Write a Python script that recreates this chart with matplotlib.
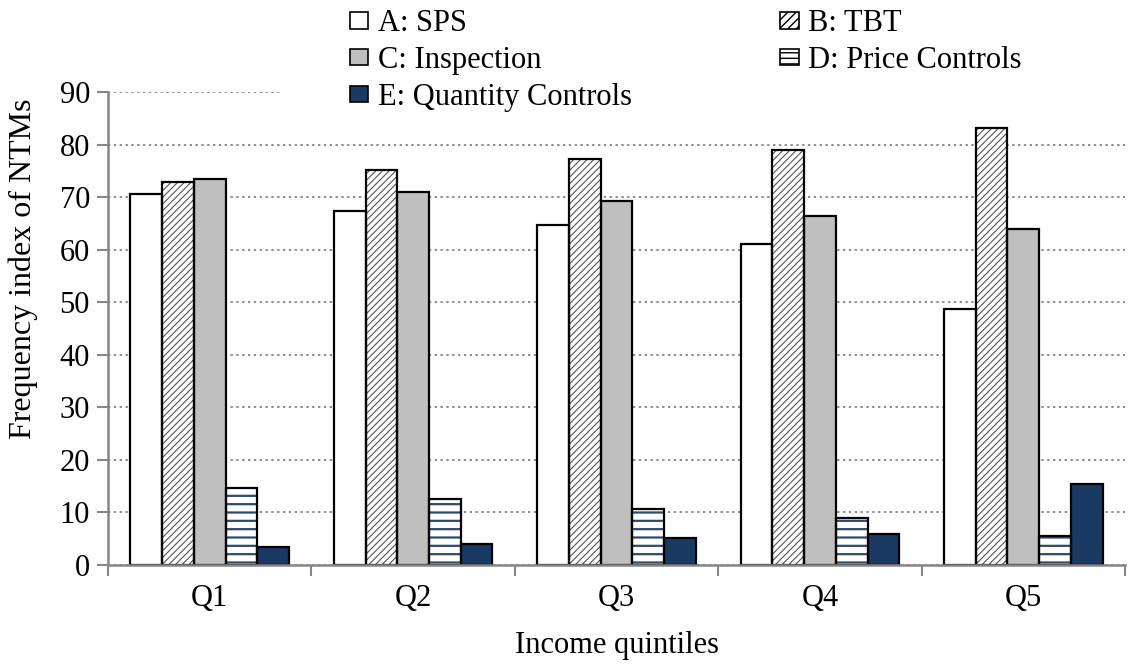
import matplotlib
matplotlib.use("Agg")
import matplotlib.pyplot as plt
import numpy as np
from matplotlib.patches import Patch, Rectangle

categories = ["Q1", "Q2", "Q3", "Q4", "Q5"]
series_names = ["A: SPS", "B: TBT", "C: Inspection", "D: Price Controls", "E: Quantity Controls"]
sps = [70.5, 67.4, 64.6, 61.0, 48.8]
tbt = [72.8, 75.1, 77.3, 79.0, 83.2]
inspection = [73.4, 70.9, 69.2, 66.4, 63.9]
price_controls = [14.7, 12.5, 10.6, 9.0, 5.5]
quantity_controls = [3.5, 4.0, 5.2, 5.9, 15.4]
yticks = [0, 10, 20, 30, 40, 50, 60, 70, 80, 90]

plt.rcParams['font.family'] = ['Liberation Serif', 'DejaVu Serif']
FS = 22

navy = "#1b3a63"
styles = [
    dict(facecolor="white", hatch=None, hatchcolor=None),
    dict(facecolor="white", hatch="/////", hatchcolor="#555555"),
    dict(facecolor="#bfbfbf", hatch=None, hatchcolor=None),
    dict(facecolor="white", hatch="--", hatchcolor="#2e4a6e"),
    dict(facecolor=navy, hatch=None, hatchcolor=None),
]

fig = plt.figure(figsize=(11.38, 6.69), dpi=100)
ax = fig.add_axes([0.0949, 0.1555, 0.8937, 0.707])

data = [sps, tbt, inspection, price_controls, quantity_controls]
x = np.arange(len(categories))
w = 0.156
for i, (vals, st) in enumerate(zip(data, styles)):
    pos = x + (i - 2) * w
    if st["hatch"]:
        plt.rcParams['hatch.linewidth'] = 0.8 if i == 1 else 1.6
        ax.bar(pos, vals, width=w, facecolor=st["facecolor"], edgecolor=st["hatchcolor"],
               hatch=st["hatch"], linewidth=0, zorder=3)
    else:
        ax.bar(pos, vals, width=w, facecolor=st["facecolor"], linewidth=0, zorder=3)
    ax.bar(pos, vals, width=w, facecolor="none", edgecolor="black", linewidth=1.6, zorder=4)

ax.set_xlim(-0.5, len(categories) - 0.5)
ax.set_ylim(0, 90)
ax.set_yticks(yticks)
ax.set_xticks(x)
ax.set_xticklabels(categories)
ax.set_xticks(np.arange(len(categories) + 1) - 0.5, minor=True)
ax.tick_params(axis='x', which='major', length=0, labelsize=FS, pad=14)
ax.tick_params(axis='x', which='minor', length=8, width=1.5, color="#868686", direction='out')
ax.tick_params(axis='y', length=8, width=1.5, color="#868686", labelsize=FS, pad=5)
ax.grid(axis='y', linestyle=(0, (1.2, 1.8)), color="#8c8c8c", linewidth=1.4, zorder=0)
ax.set_axisbelow(True)
for s in ["top", "right"]:
    ax.spines[s].set_visible(False)
for s in ["left", "bottom"]:
    ax.spines[s].set_color("#868686")
    ax.spines[s].set_linewidth(1.8)
ax.spines["bottom"].set_zorder(5)

ax.set_ylabel("Frequency index of NTMs", fontsize=23)
ax.yaxis.set_label_coords(23 / 1138, (669 - 269) / 669, transform=fig.transFigure)
ax.yaxis.label.set_verticalalignment("center")
ax.set_xlabel("Income quintiles", fontsize=FS, labelpad=13)

# white background behind legend
fig.patches.append(Rectangle((280 / 1138, 1 - 112 / 669), 850 / 1138, 112 / 669,
                             transform=fig.transFigure, facecolor="white",
                             edgecolor="none", zorder=2))

plt.rcParams['hatch.linewidth'] = 1.0
handles = []
for name, st in zip(series_names, styles):
    h = None
    ec = "black"
    if st["hatch"] == "/////":
        h = "////"
    elif st["hatch"]:
        h = "---"
    handles.append(Patch(facecolor=st["facecolor"], edgecolor=ec, linewidth=1.2,
                         hatch=h, label=name))
order = [0, 2, 4, 1, 3]
leg = fig.legend(handles=[handles[i] for i in order], loc="upper left",
                 bbox_to_anchor=(322 / 1138, 1.027), ncol=2, frameon=False,
                 fontsize=FS, handlelength=0.62, handleheight=0.45, handletextpad=0.3,
                 columnspacing=4.85, labelspacing=0.25)
leg.set_zorder(6)

fig.savefig("out.png", dpi=100)
